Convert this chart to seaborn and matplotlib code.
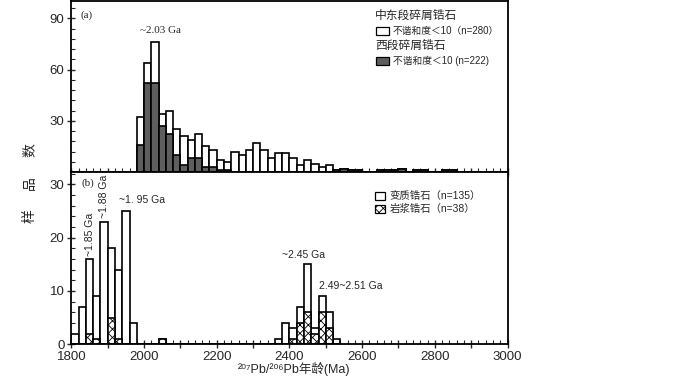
import numpy as np
import pandas as pd
import matplotlib
matplotlib.use('Agg')
import matplotlib.pyplot as plt
import seaborn as sns
from matplotlib.patches import Rectangle
from matplotlib.ticker import MultipleLocator, FuncFormatter

sns.set_style('ticks')
plt.rcParams['font.family'] = ['Liberation Sans', 'Noto Sans CJK SC']
plt.rcParams['hatch.linewidth'] = 0.6
plt.rcParams['hatch.color'] = '#444444'

# (a) detrital zircons, 20 Ma bins (left edges)
bins_a = np.arange(1980, 2860, 20)
total_a = [32, 64, 76, 34, 36, 25, 21, 19, 22, 15,
           13, 7, 6, 12, 10, 13, 17, 13, 8, 11,
           11, 8, 4, 7, 5, 3, 4, 1, 2, 1,
           1, 0, 0, 1, 1, 1, 2, 0, 1, 1,
           0, 0, 1, 1]
west_a = [16, 52, 52, 27, 22, 10, 4, 8, 8, 3,
          3, 1, 1, 0, 0, 0, 0, 0, 0, 0,
          0, 0, 0, 0, 0, 0, 0, 1, 2, 1,
          1, 0, 0, 1, 1, 1, 2, 0, 1, 1,
          0, 0, 1, 1]

# (b) metamorphic / magmatic zircons
bins_b = np.arange(1800, 2540, 20)
total_b = [2, 7, 16, 9, 23, 18, 14, 25, 4, 0,
           0, 0, 1, 0, 0, 0, 0, 0, 0, 0,
           0, 0, 0, 0, 0, 0, 0, 0, 1, 4,
           3, 7, 15, 3, 9, 6, 1]
magma_b = [0, 0, 2, 1, 0, 5, 1, 0, 0, 0,
           0, 0, 1, 0, 0, 0, 0, 0, 0, 0,
           0, 0, 0, 0, 0, 0, 0, 0, 0, 0,
           1, 4, 6, 2, 6, 3, 0]

legend_a = ['中东段碎屑锆石', '不谐和度＜10（n=280）', '西段碎屑锆石', '不谐和度＜10 (n=222)']
legend_b = ['变质锆石（n=135）', '岩浆锆石（n=38）']
ylabel_chars = ['样', '品', '数']
xlabel = '²⁰⁷Pb/²⁰⁶Pb年龄(Ma)'

dark = '#5e5e5e'

fig = plt.figure(figsize=(7, 3.85), dpi=100)
ax1 = fig.add_axes([0.102, 0.553, 0.623, 0.444])
ax2 = fig.add_axes([0.102, 0.106, 0.623, 0.447])


def hist(ax, left, vals, **kw):
    df = pd.DataFrame({'age': left + 10, 'n': vals})
    edges = [float(e) for e in left] + [float(left[-1] + 20)]
    sns.histplot(data=df, x='age', weights='n', bins=edges, ax=ax, alpha=1,
                 linewidth=1.2, edgecolor='black', **kw)


hist(ax1, bins_a, total_a, color='white')
hist(ax1, bins_a, west_a, color=dark)
hist(ax2, bins_b, total_b, color='white')
hist(ax2, bins_b, magma_b, color='white', hatch='xxxx')

for ax in (ax1, ax2):
    ax.set_xlim(1800, 3000)
    ax.set_xlabel('')
    ax.set_ylabel('')
    ax.xaxis.set_major_locator(MultipleLocator(100))
    ax.xaxis.set_minor_locator(MultipleLocator(20))
    ax.tick_params(which='major', direction='inout', length=6, width=1, labelsize=9.5, pad=2)
    ax.tick_params(which='minor', direction='in', length=3, width=0.8)
    for s in ax.spines.values():
        s.set_visible(True)
        s.set_linewidth(1.3)
        s.set_color('black')

ax1.set_ylim(0, 100)
ax1.set_yticks([30, 60, 90])
ax1.yaxis.set_minor_locator(MultipleLocator(6))
ax1.tick_params(axis='x', labelbottom=False)

ax2.set_ylim(0, 32.3)
ax2.yaxis.set_major_locator(MultipleLocator(10))
ax2.yaxis.set_minor_locator(MultipleLocator(2))
ax2.xaxis.set_major_formatter(FuncFormatter(lambda v, p: f'{int(v)}' if int(v) % 200 == 0 else ''))

# panel labels and peak annotations
ax1.text(1826, 91.5, '(a)', family='Liberation Serif', fontsize=8, va='center')
ax1.text(2044, 83, '~2.03 Ga', family='Liberation Serif', fontsize=8, ha='center', va='center')
ax2.text(1828, 30.3, '(b)', family='Liberation Serif', fontsize=8, va='center')
ax2.text(1850, 16.6, '~1.85 Ga', fontsize=7.5, rotation=90, ha='center', va='bottom')
ax2.text(1890, 23.6, '~1.88 Ga', fontsize=7.5, rotation=90, ha='center', va='bottom')
ax2.text(1932, 27, '~1. 95 Ga', fontsize=7.5, ha='left', va='center')
ax2.text(2440, 16.8, '~2.45 Ga', fontsize=7.5, ha='center', va='center')
ax2.text(2481, 10.9, '2.49~2.51 Ga', fontsize=7.5, ha='left', va='center')

# legend (a)
ax1.text(0.696, 0.912, legend_a[0], transform=ax1.transAxes, fontsize=8.5, va='center')
ax1.add_patch(Rectangle((0.698, 0.800), 0.030, 0.050, transform=ax1.transAxes,
                        facecolor='white', edgecolor='black', lw=0.9))
ax1.text(0.737, 0.825, legend_a[1], transform=ax1.transAxes, fontsize=7, va='center')
ax1.text(0.696, 0.737, legend_a[2], transform=ax1.transAxes, fontsize=8.5, va='center')
ax1.add_patch(Rectangle((0.698, 0.624), 0.030, 0.050, transform=ax1.transAxes,
                        facecolor=dark, edgecolor='black', lw=0.9))
ax1.text(0.737, 0.649, legend_a[3], transform=ax1.transAxes, fontsize=7, va='center')

# legend (b)
ax2.add_patch(Rectangle((0.696, 0.837), 0.023, 0.047, transform=ax2.transAxes,
                        facecolor='white', edgecolor='black', lw=0.9))
ax2.text(0.729, 0.860, legend_b[0], transform=ax2.transAxes, fontsize=7.5, va='center')
ax2.add_patch(Rectangle((0.696, 0.762), 0.023, 0.047, transform=ax2.transAxes,
                        facecolor='white', edgecolor='black', lw=0.9, hatch='xxxx'))
ax2.text(0.729, 0.785, legend_b[1], transform=ax2.transAxes, fontsize=7.5, va='center')

# spaced vertical y label
for i, ch in enumerate(ylabel_chars):
    fig.text(30 / 700, 1 - (216 - 33 * i) / 385, ch, rotation=90, ha='center', va='center',
             fontsize=10, family='Noto Sans CJK SC')
fig.text(294 / 700, 1 - 369 / 385, xlabel, ha='center', va='center', fontsize=9,
         family=['Liberation Sans', 'DejaVu Sans', 'Noto Sans CJK SC'])

fig.savefig('out.png', dpi=100)
